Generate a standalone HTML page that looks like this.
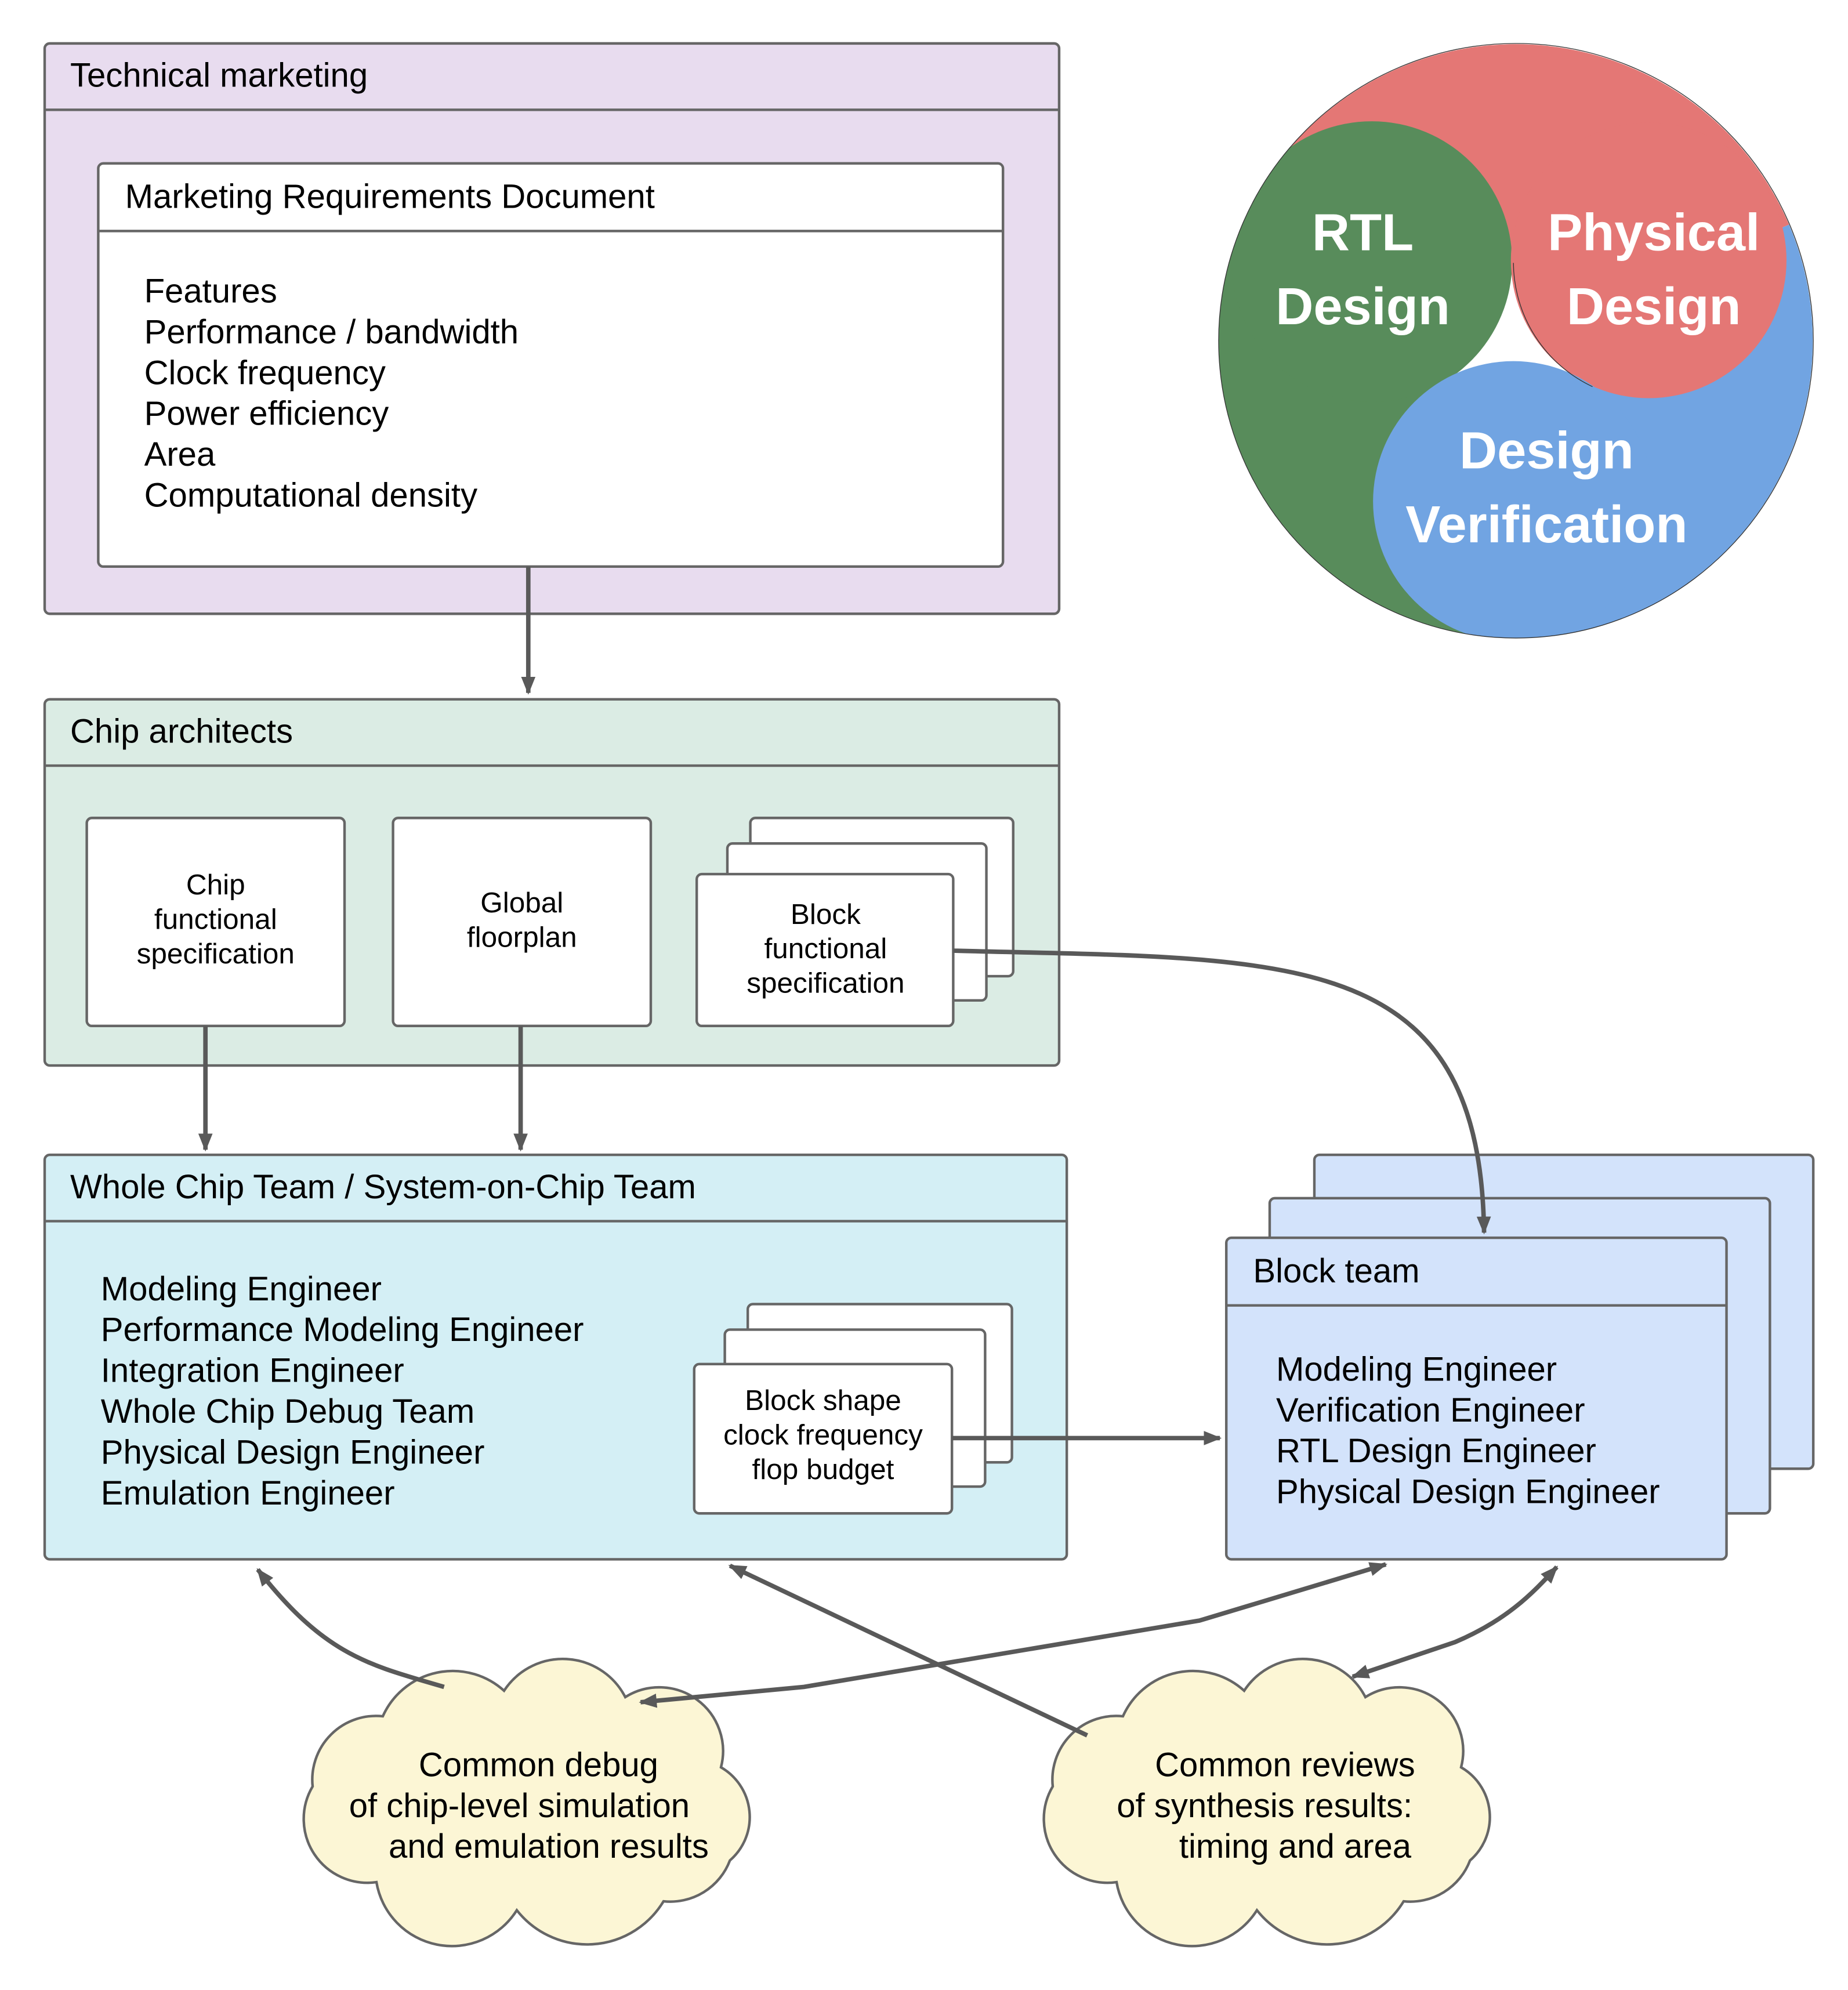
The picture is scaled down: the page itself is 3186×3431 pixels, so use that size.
<!DOCTYPE html>
<html><head><meta charset="utf-8"><style>html,body{margin:0;padding:0;background:#fff}svg{display:block}</style></head>
<body>
<svg xmlns="http://www.w3.org/2000/svg" width="3186" height="3431" viewBox="0 0 1448.2 1559.5" font-family="Liberation Sans, Arial, sans-serif">
<defs>
<marker id="a" viewBox="0 0 10 10" refX="9" refY="5" markerWidth="4" markerHeight="4" orient="auto-start-reverse" markerUnits="strokeWidth"><path d="M0,1 L10,5 L0,9 Z" fill="#595959"/></marker>
<clipPath id="bc"><circle cx="1188" cy="267" r="233"/></clipPath>
</defs>
<rect width="1448.2" height="1559.5" fill="#fff"/>
<g clip-path="url(#bc)">
<path d="M1188,267 L999,131 A233 233 0 0 1 1402,176 Z" fill="#e47775"/>
<path d="M1188,267 L1402,176 A233 233 0 0 1 1180,500 Z" fill="#71a4e2"/>
<path d="M1188,267 L1180,500 A233 233 0 0 1 999,131 Z" fill="#588c5b"/>
<polygon points="1185,205 1240,298 1130,299" fill="#fff"/>
<circle cx="1075" cy="205" r="110" fill="#588c5b"/>
<circle cx="1292" cy="204" r="108" fill="#e47775"/>
<circle cx="1186" cy="393" r="110" fill="#71a4e2"/>
<path d="M1248,303 A108 108 0 0 1 1186,206" fill="none" stroke="#333" stroke-width="0.6"/>
</g>
<circle cx="1188" cy="267" r="233" fill="none" stroke="#333" stroke-width="0.6"/>
<g fill="#fff" font-weight="bold" font-size="41" text-anchor="middle">
<text x="1068" y="196">RTL</text><text x="1068" y="254">Design</text>
<text x="1296" y="196">Physical</text><text x="1296" y="254">Design</text>
<text x="1212" y="367">Design</text><text x="1212" y="425">Verification</text>
</g>
<g stroke="#666" stroke-width="2">
<rect x="35" y="34" width="795" height="447" rx="4" fill="#e8dcef"/>
<line x1="35" y1="86" x2="830" y2="86"/>
<rect x="77" y="128" width="709" height="316" rx="4" fill="#fff"/>
<line x1="77" y1="181" x2="786" y2="181"/>
<rect x="35" y="548" width="795" height="287" rx="4" fill="#dbece4"/>
<line x1="35" y1="600" x2="830" y2="600"/>
<rect x="68" y="641" width="202" height="163" rx="4" fill="#fff"/>
<rect x="308" y="641" width="202" height="163" rx="4" fill="#fff"/>
<rect x="588" y="641" width="206" height="124" rx="4" fill="#fff"/>
<rect x="570" y="661" width="203" height="123" rx="4" fill="#fff"/>
<rect x="546" y="685" width="201" height="119" rx="4" fill="#fff"/>
<rect x="35" y="905" width="801" height="317" rx="4" fill="#d4eff5"/>
<line x1="35" y1="957" x2="836" y2="957"/>
<rect x="586" y="1022" width="207" height="124" rx="4" fill="#fff"/>
<rect x="568" y="1042" width="204" height="123" rx="4" fill="#fff"/>
<rect x="544" y="1069" width="202" height="117" rx="4" fill="#fff"/>
<rect x="1030" y="905" width="391" height="246" rx="4" fill="#d3e3fb"/>
<rect x="995" y="939" width="392" height="247" rx="4" fill="#d3e3fb"/>
<rect x="961" y="970" width="392" height="252" rx="4" fill="#d3e3fb"/>
<line x1="961" y1="1023" x2="1353" y2="1023"/>
<path d="M245,1400 A50 50 0 0 1 300,1345 A60 60 0 0 1 395,1325 A55 55 0 0 1 490,1330 A50 50 0 0 1 565,1385 A45 45 0 0 1 572,1458 A50 50 0 0 1 520,1490 A70 70 0 0 1 405,1497 A60 60 0 0 1 295,1475 A50 50 0 0 1 245,1400 Z" fill="#fcf6d5"/>
<path transform="translate(580,0)" d="M245,1400 A50 50 0 0 1 300,1345 A60 60 0 0 1 395,1325 A55 55 0 0 1 490,1330 A50 50 0 0 1 565,1385 A45 45 0 0 1 572,1458 A50 50 0 0 1 520,1490 A70 70 0 0 1 405,1497 A60 60 0 0 1 295,1475 A50 50 0 0 1 245,1400 Z" fill="#fcf6d5"/>
</g>
<g fill="#000" font-size="26.4">
<text x="55" y="68">Technical marketing</text>
<text x="98" y="163">Marketing Requirements Document</text>
<text x="113" y="237">Features</text><text x="113" y="269">Performance / bandwidth</text><text x="113" y="301">Clock frequency</text><text x="113" y="333">Power efficiency</text><text x="113" y="365">Area</text><text x="113" y="397">Computational density</text>
<text x="55" y="582">Chip architects</text>
<text x="55" y="939">Whole Chip Team / System-on-Chip Team</text>
<text x="79" y="1019">Modeling Engineer</text><text x="79" y="1051">Performance Modeling Engineer</text><text x="79" y="1083">Integration Engineer</text><text x="79" y="1115">Whole Chip Debug Team</text><text x="79" y="1147">Physical Design Engineer</text><text x="79" y="1179">Emulation Engineer</text>
<text x="982" y="1005">Block team</text>
<text x="1000" y="1082">Modeling Engineer</text><text x="1000" y="1114">Verification Engineer</text><text x="1000" y="1146">RTL Design Engineer</text><text x="1000" y="1178">Physical Design Engineer</text>
</g>
<g fill="#000" font-size="22.5" text-anchor="middle">
<text x="169" y="701">Chip</text><text x="169" y="728">functional</text><text x="169" y="755">specification</text>
<text x="409" y="715">Global</text><text x="409" y="742">floorplan</text>
<text x="647" y="724">Block</text><text x="647" y="751">functional</text><text x="647" y="778">specification</text>
<text x="645" y="1105">Block shape</text><text x="645" y="1132">clock frequency</text><text x="645" y="1159">flop budget</text>
</g>
<g fill="#000" font-size="26.4" text-anchor="middle">
<text x="422" y="1392">Common debug</text><text x="407" y="1424">of chip-level simulation</text><text x="430" y="1456">and emulation results</text>
<text x="1007" y="1392">Common reviews</text><text x="991" y="1424">of synthesis results:</text><text x="1015" y="1456">timing and area</text>
</g>
<g stroke="#595959" stroke-width="3.5" fill="none">
<line x1="414" y1="444" x2="414" y2="543" marker-end="url(#a)"/>
<line x1="161" y1="804" x2="161" y2="901" marker-end="url(#a)"/>
<line x1="408" y1="804" x2="408" y2="901" marker-end="url(#a)"/>
<path d="M747,745 C1010,752 1160,740 1163,966" marker-end="url(#a)"/>
<line x1="746" y1="1127" x2="956" y2="1127" marker-end="url(#a)"/>
<path d="M348,1322 C290,1305 255,1298 202,1230" marker-end="url(#a)"/>
<line x1="852" y1="1360" x2="572" y2="1227" marker-end="url(#a)"/>
<path d="M502,1334 L630,1322 L940,1270 L1086,1226" marker-start="url(#a)" marker-end="url(#a)"/>
<path d="M1060,1314 L1140,1287 C1180,1270 1200,1250 1220,1228" marker-start="url(#a)" marker-end="url(#a)"/>
</g>
</svg>
</body></html>
